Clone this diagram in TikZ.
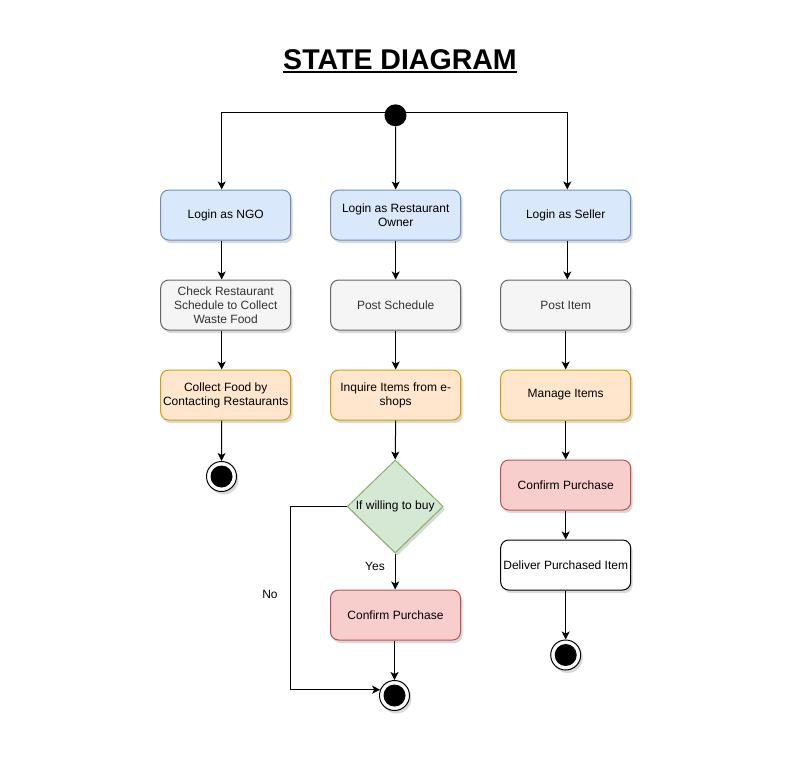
\documentclass[tikz,border=0pt]{standalone}
\usepackage{fontspec}
\setmainfont{Liberation Sans}
\usetikzlibrary{shapes.geometric,arrows.meta,shadows,calc}
\definecolor{bluef}{HTML}{DAE8FC}\definecolor{bluel}{HTML}{6C8EBF}
\definecolor{grayf}{HTML}{F5F5F5}\definecolor{grayl}{HTML}{666666}\definecolor{grayt}{HTML}{333333}
\definecolor{orf}{HTML}{FFE6CC}\definecolor{orl}{HTML}{D79B00}
\definecolor{grf}{HTML}{D5E8D4}\definecolor{grl}{HTML}{82B366}
\definecolor{redf}{HTML}{F8CECC}\definecolor{redl}{HTML}{B85450}
\begin{document}
\begin{tikzpicture}[x=0.75pt,y=-0.75pt,
  font=\fontsize{9pt}{10.5pt}\selectfont,
  sh/.style={drop shadow={shadow xshift=1.5pt,shadow yshift=-2.25pt,opacity=0.15,fill=black}},
  box/.style={draw, rounded corners=6pt, minimum width=97.5pt, minimum height=37.5pt, inner sep=0pt, align=center, line width=0.75pt, sh},
  bluebox/.style={box, fill=bluef, draw=bluel},
  graybox/.style={box, fill=grayf, draw=grayl, text=grayt},
  orbox/.style={box, fill=orf, draw=orl},
  redbox/.style={box, fill=redf, draw=redl},
  whitebox/.style={box, fill=white, draw=black},
  arr/.style={line width=0.75pt, -{Stealth[length=6pt,width=6pt,inset=1.5pt]}},
  startst/.style={circle, fill=black, minimum size=16.5pt, inner sep=0pt},
  endst/.style={circle, draw=black, fill=white, line width=0.75pt, minimum size=22.5pt, inner sep=0pt, sh,
    path picture={\fill[black] (path picture bounding box.center) circle (8.25pt);}},
  lbl/.style={inner sep=0pt}
]
\useasboundingbox (0,0) rectangle (807,757);
\fill[white] (0,0) rectangle (807,757);

% title
\node[anchor=base, inner sep=0pt] (title) at (400,69) {\fontsize{21.4pt}{25pt}\selectfont\bfseries STATE DIAGRAM};
\draw[line width=1.5pt] ([yshift=-2.5pt]title.base west) -- ([yshift=-2.5pt]title.base east);

% start
\node[startst] (start) at (395.5,115.3) {};

% left column
\node[bluebox] (ngo) at (225.7,215) {Login as NGO};
\node[graybox] (check) at (225.7,305) {Check Restaurant\\Schedule to Collect\\Waste Food};
\node[orbox] (collect) at (225.7,395) {Collect Food by\\Contacting Restaurants};
\node[endst] (end1) at (221.5,476.5) {};

% middle column
\node[bluebox] (owner) at (395.7,215) {Login as Restaurant\\Owner};
\node[graybox] (post) at (395.7,305) {Post Schedule};
\node[orbox] (inq) at (395.7,395) {Inquire Items from e-\\shops};
\node[diamond, draw=grl, fill=grf, line width=0.75pt, minimum width=72pt, minimum height=69.75pt, inner sep=0pt, sh] (dec) at (395.2,506.5) {};
\node[lbl] (dectext) at (395.2,506) {If willing to buy};
\node[redbox] (conf) at (395.5,615) {Confirm Purchase};
\node[endst] (end2) at (394.5,695.5) {};
\node[lbl] (yes) at (375,566.5) {Yes};
\node[lbl] (no) at (270,594) {No};

% right column
\node[bluebox] (seller) at (565.7,215) {Login as Seller};
\node[graybox] (item) at (565.7,305) {Post Item};
\node[orbox] (manage) at (565.7,395) {Manage Items};
\node[redbox] (cp2) at (565.7,485) {Confirm Purchase};
\node[whitebox] (deliver) at (565.7,565) {Deliver Purchased Item};
\node[endst] (end3) at (565.7,655) {};

% connectors
\draw[arr] ([yshift=2.25pt]start.center) -| ([xshift=-3pt]ngo.north);
\draw[arr] (start.south) -- (owner.north);
\draw[arr] ([yshift=2.25pt]start.center) -| ([xshift=1.2pt]seller.north);

\draw[arr] ([xshift=-3pt]ngo.south) -- ([xshift=-3pt]check.north);
\draw[arr] ([xshift=-3pt]check.south) -- ([xshift=-3pt]collect.north);
\draw[arr] ([xshift=-3pt]collect.south) -- (end1.north);

\draw[arr] (owner.south) -- (post.north);
\draw[arr] (post.south) -- (inq.north);
\draw[arr] (inq.south) -- (dec.north);
\draw[arr] (dec.south) -- (dec.south |- conf.north);
\draw[arr] (conf.south -| end2.north) -- (end2.north);
\draw[arr] (dec.west) -- ++(-56.5,0) |- (end2.158);

\draw[arr] ([xshift=1.2pt]seller.south) -- ([xshift=1.2pt]item.north);
\draw[arr] (item.south) -- (manage.north);
\draw[arr] (manage.south) -- (cp2.north);
\draw[arr] (cp2.south) -- (deliver.north);
\draw[arr] (deliver.south) -- (end3.north);
\end{tikzpicture}
\end{document}
